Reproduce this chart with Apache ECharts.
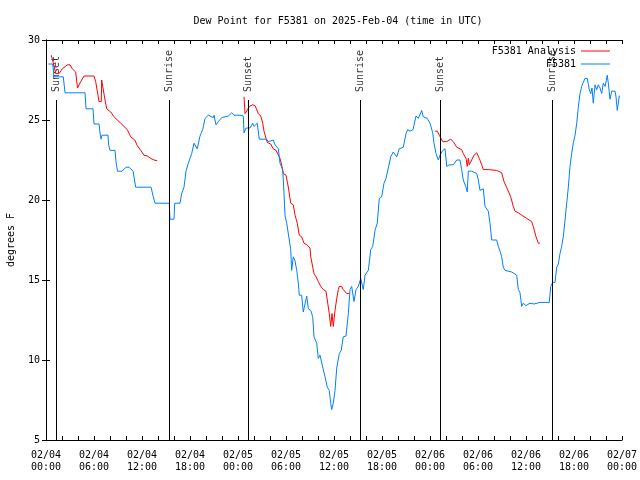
<!DOCTYPE html>
<html>
<head>
<meta charset="utf-8">
<script src="https://cdn.jsdelivr.net/npm/echarts@6/dist/echarts.min.js"></script>
<style>html,body{margin:0;padding:0;background:#fff}#c{width:640px;height:480px}</style>
</head>
<body>
<div id="c"></div>
<script>
// Hours since 2025-02-04 00:00 UTC
const tickLabels = ['02/04\n00:00','02/04\n06:00','02/04\n12:00','02/04\n18:00','02/05\n00:00','02/05\n06:00','02/05\n12:00','02/05\n18:00','02/06\n00:00','02/06\n06:00','02/06\n12:00','02/06\n18:00','02/07\n00:00'];

const sunHours = [1.29, 15.41, 25.29, 39.25, 49.34, 63.29];
const sunNames = ['Sunset','Sunrise','Sunset','Sunrise','Sunset','Sunrise'];

const blueHours = [0.29,0.84,1.0,2.16,2.38,4.88,5.0,5.88,6.0,6.63,6.75,6.88,7.0,7.75,7.81,8.0,8.63,8.75,8.94,9.5,10.0,10.38,10.88,11.21,13.13,13.25,13.41,13.63,15.41,15.5,16.0,16.09,16.75,16.96,17.25,17.5,17.79,18.21,18.5,18.75,18.91,19.25,19.59,19.88,20.29,20.91,21.0,21.25,21.54,21.96,22.79,23.21,23.5,24.25,24.66,24.75,25.0,25.5,25.84,26.0,26.41,26.66,27.59,27.75,28.41,28.63,29.04,29.25,29.59,29.75,29.88,30.09,30.41,30.59,30.71,30.91,31.13,31.34,31.54,31.66,31.96,32.16,32.59,32.79,33.09,33.34,33.5,33.84,34.04,34.25,34.45,34.66,34.88,35.16,35.41,35.59,35.71,35.91,36.13,36.34,36.66,36.9,37.16,37.5,37.79,38.0,38.21,38.5,38.75,39.04,39.34,39.66,39.88,40.29,40.59,40.84,41.13,41.41,41.66,41.96,42.25,42.5,42.79,43.09,43.41,43.84,44.16,44.66,45.0,45.21,45.5,45.88,46.25,46.54,46.96,47.16,47.66,48.0,48.34,48.5,48.75,49.04,49.25,49.59,49.88,50.09,50.41,50.91,51.34,51.75,51.96,52.16,52.5,52.66,52.79,53.21,53.84,54.04,54.25,54.66,54.88,55.29,55.5,55.71,56.34,56.54,56.75,56.96,57.16,57.38,58.21,58.84,59.04,59.25,59.46,59.66,60.0,60.5,61.0,61.75,62.91,63.09,63.34,63.63,63.84,64.04,64.25,64.46,64.66,64.88,65.09,65.29,65.5,65.71,65.91,66.13,66.34,66.54,66.75,66.96,67.16,67.38,67.66,67.91,68.09,68.25,68.41,68.63,68.84,69.04,69.25,69.46,69.66,69.9,70.16,70.29,70.5,70.71,71.13,71.25,71.41,71.66,71.75];
const blueDewF = [28.5,28.5,27.7,27.7,26.7,26.7,25.7,25.7,24.75,24.75,24.2,23.8,24.05,24.05,23.5,23.1,23.1,22.4,21.8,21.8,22.05,22.05,21.8,20.8,20.8,20.9,20.2,19.8,19.8,18.8,18.8,19.8,19.8,20.4,20.8,21.8,22.3,22.9,23.55,23.65,23.2,24.0,24.4,25.1,25.3,25.15,25.3,24.7,24.9,25.15,25.25,25.45,25.3,25.3,25.25,24.2,24.5,24.5,24.8,24.6,24.8,23.8,23.8,23.65,23.75,23.45,23.2,22.3,21.9,20.4,19.0,18.55,17.5,16.9,15.6,16.45,16.2,15.6,14.8,14.05,14.05,13.0,14.0,13.2,13.1,12.7,11.45,11.05,10.1,10.3,10.2,9.4,8.95,8.3,8.1,7.3,6.9,7.3,8.1,9.5,10.4,10.6,11.45,11.5,12.9,14.4,14.6,13.65,14.4,14.6,15.1,14.4,15.3,15.6,16.9,17.1,18.1,18.55,20.1,20.2,21.05,21.35,22.0,22.7,23.0,22.7,23.2,23.3,24.15,24.4,24.3,24.4,25.25,25.1,25.6,25.2,25.1,24.8,24.2,23.55,22.9,22.5,22.8,23.1,23.2,22.1,22.2,22.2,22.5,22.5,21.9,21.25,20.8,20.5,21.8,21.8,21.65,21.25,20.6,20.7,19.6,19.3,18.55,17.5,17.5,17.1,16.8,16.45,15.8,15.6,15.5,15.3,14.4,14.2,13.35,13.55,13.4,13.55,13.5,13.6,13.6,14.6,14.85,14.85,15.8,16.0,16.65,17.1,17.7,18.75,19.8,20.8,22.1,22.9,23.55,24.05,24.8,25.8,26.65,27.1,27.35,27.6,27.6,26.9,26.65,27.0,26.05,27.2,26.9,27.2,27.0,26.65,27.3,27.1,27.8,27.3,26.3,26.8,26.8,26.45,25.6,26.5,26.5];

// null marks a gap in the analysis series
const redHours = [0.66,0.81,1.0,1.21,1.63,2.04,2.66,3.0,3.29,3.71,3.91,3.94,4.34,4.75,6.0,6.21,6.5,6.63,6.91,6.96,7.09,7.38,7.59,8.09,8.5,8.91,9.34,9.75,10.16,10.59,11.09,11.41,11.84,12.25,12.66,13.09,13.5,13.91,19.0,24.75,24.88,25.16,25.41,25.84,26.13,26.54,26.84,27.09,27.25,27.5,27.66,28.09,28.41,28.75,29.0,29.25,29.46,29.66,30.0,30.29,30.59,30.91,31.13,31.41,31.66,31.96,32.25,32.59,33.0,33.09,33.5,33.75,34.04,34.34,34.66,35.0,35.16,35.41,35.59,35.75,35.91,36.13,36.34,36.54,36.66,36.96,37.16,37.59,37.91,43.0,48.63,48.91,49.16,49.59,50.09,50.59,50.91,51.34,51.96,52.16,52.5,52.66,52.79,52.91,53.21,53.5,53.84,54.16,54.46,54.66,55.29,56.34,56.96,57.25,57.66,57.91,58.09,58.41,58.63,59.04,59.46,60.09,60.71,60.91,61.25,61.54,61.75];
const redDewF = [29.05,29.0,28.4,27.9,27.9,28.2,28.45,28.45,28.2,28.0,28.0,27.0,27.4,27.75,27.75,27.4,26.55,26.15,26.15,27.5,27.1,26.25,25.7,25.5,25.2,25.0,24.8,24.6,24.4,23.95,23.75,23.4,23.1,22.8,22.75,22.6,22.5,22.45,null,26.45,25.4,25.6,25.85,25.95,25.9,25.4,25.25,24.8,24.3,23.85,23.6,23.5,23.2,23.1,23.2,22.6,22.2,21.65,21.55,20.8,19.8,19.7,19.05,18.55,17.8,17.7,17.3,17.2,17.0,16.45,15.4,15.2,14.9,14.6,14.4,14.3,13.75,12.9,12.1,12.9,12.1,13.1,13.85,14.4,14.6,14.6,14.4,14.15,14.15,null,24.3,24.3,24.05,23.65,23.65,23.8,23.65,23.3,23.15,22.9,22.6,22.1,22.6,22.2,22.5,22.8,22.95,22.6,22.2,21.9,21.9,21.85,21.7,21.15,20.7,20.6,20.2,19.6,19.3,19.2,19.05,18.85,18.65,18.35,17.7,17.3,17.3];

const FONT = 'DejaVu Sans Mono';
const lineTop = 26.25;

const chart = echarts.init(document.getElementById('c'), null, {renderer: 'canvas'});
const axisBase = {
  axisLine: {show: true, lineStyle: {color: '#000', width: 1}},
  axisTick: {show: true, inside: true, length: 4, lineStyle: {color: '#000'}},
  splitLine: {show: false}
};
chart.setOption({
  animation: false,
  backgroundColor: '#fff',
  title: {
    text: 'Dew Point for F5381 on 2025-Feb-04 (time in UTC)',
    left: 333, top: 11, textAlign: 'center',
    textStyle: {fontFamily: FONT, fontSize: 10, fontWeight: 'normal', color: '#000'}
  },
  legend: [
    {data: [{name: 'F5381 Analysis', icon: 'rect'}], right: 30, top: 46, align: 'right', padding: 0,
     itemWidth: 29, itemHeight: 1, textStyle: {fontFamily: FONT, fontSize: 10, color: '#000'}, selectedMode: false},
    {data: [{name: 'F5381', icon: 'rect'}], right: 30, top: 59, align: 'right', padding: 0,
     itemWidth: 29, itemHeight: 1, textStyle: {fontFamily: FONT, fontSize: 10, color: '#000'}, selectedMode: false}
  ],
  grid: {left: 46, right: 18, top: 40, bottom: 40, containLabel: false, outerBoundsMode: 'none'},
  xAxis: [
    Object.assign({}, axisBase, {
      type: 'value', min: 0, max: 72, interval: 2, position: 'bottom',
      axisLabel: {
        fontFamily: FONT, fontSize: 10, color: '#000', lineHeight: 12, margin: 9,
        formatter: v => (v % 6 === 0 ? tickLabels[v / 6] : '')
      }
    }),
    Object.assign({}, axisBase, {
      type: 'value', min: 0, max: 72, interval: 2, position: 'top', axisLabel: {show: false}
    })
  ],
  yAxis: [
    Object.assign({}, axisBase, {
      type: 'value', min: 5, max: 30, interval: 5, position: 'left',
      name: 'degrees F', nameLocation: 'middle', nameGap: 30, nameRotate: 90,
      nameTextStyle: {fontFamily: FONT, fontSize: 10, color: '#000'},
      axisLabel: {fontFamily: FONT, fontSize: 10, color: '#000', margin: 6}
    }),
    Object.assign({}, axisBase, {
      type: 'value', min: 5, max: 30, interval: 5, position: 'right', axisLabel: {show: false}
    })
  ],
  series: [
    {
      name: 'sun', type: 'scatter', symbolSize: 0, silent: true,
      data: sunHours.map(h => [h, lineTop]),
      label: {
        show: true, position: 'top', distance: 8, rotate: 90, align: 'left', verticalAlign: 'middle',
        fontFamily: FONT, fontSize: 10, color: '#000',
        formatter: p => sunNames[p.dataIndex]
      },
      markLine: {
        silent: true, symbol: 'none', animation: false,
        label: {show: false},
        lineStyle: {color: '#000', width: 1, type: 'solid'},
        data: sunHours.map(h => [{coord: [h, 5]}, {coord: [h, lineTop]}])
      }
    },
    {
      name: 'F5381 Analysis', type: 'line', showSymbol: false, symbol: 'none',
      connectNulls: false,
      lineStyle: {color: '#ff0000', width: 1}, itemStyle: {color: '#ff0000'},
      data: redHours.map((h, i) => [h, redDewF[i] === null ? '-' : redDewF[i]])
    },
    {
      name: 'F5381', type: 'line', showSymbol: false, symbol: 'none',
      lineStyle: {color: '#0080ff', width: 1}, itemStyle: {color: '#0080ff'},
      data: blueHours.map((h, i) => [h, blueDewF[i]])
    }
  ]
});
</script>
</body>
</html>
